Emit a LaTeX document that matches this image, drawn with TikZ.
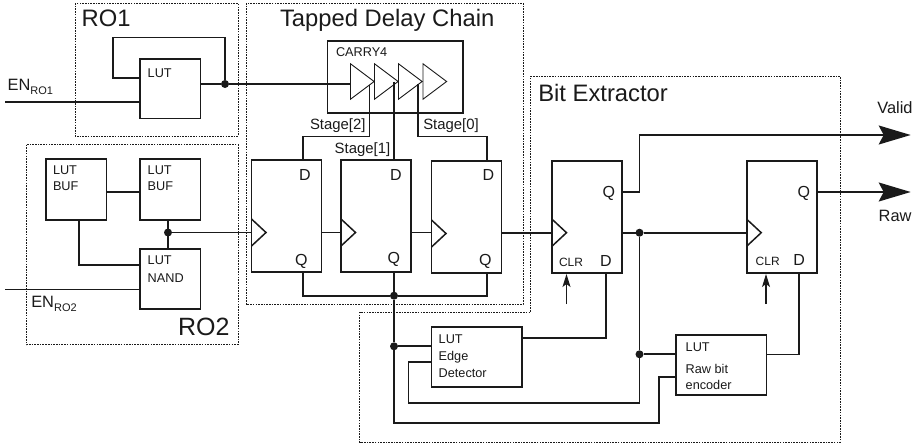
\documentclass[tikz,border=0pt]{standalone}
\usepackage{fontspec}
\setmainfont{Liberation Sans}
\usetikzlibrary{arrows.meta}
\definecolor{ink}{HTML}{1A1A1A}
\newcommand{\fs}[1]{\fontsize{#1}{#1}\selectfont}
\tikzset{
  x=1pt,y=-1pt,
  group/.style={draw=ink,line width=0.9pt,dash pattern=on 1.6pt off 1.1pt},
  bx/.style={draw=ink,line width=1.7pt,inner sep=0pt,outer sep=0pt},
  wire/.style={draw=ink,line width=1.7pt,line join=miter},
  tri/.style={draw=ink,line width=0.9pt,line join=miter},
  clk/.style={draw=ink,line width=1.5pt,line join=miter},
  jn/.style={circle,fill=ink,inner sep=0pt,outer sep=0pt,minimum size=8pt},
  txt/.style={text=ink,inner sep=0pt,outer sep=0pt,anchor=base west,align=left},
  title/.style={txt,font=\fs{23.8}},
  lut/.style={txt,font=\fs{12.7}},
  pinlabel/.style={txt,font=\fs{16}},
  clr/.style={txt,font=\fs{12}},
  stage/.style={txt,font=\fs{14.9}},
  sig/.style={txt,font=\fs{16.4}},
  outwire/.style={wire,-{Stealth[length=32pt,width=19pt,inset=5pt]}},
  clrarrow/.style={draw=ink,line width=1.2pt,-{Stealth[length=13pt,width=8pt,inset=3pt]}},
}
\newcommand{\bxn}[5]{%
  \pgfmathsetmacro\bxw{#4-#2}\pgfmathsetmacro\bxh{#5-#3}%
  \node[bx,minimum width=\bxw pt,minimum height=\bxh pt] (#1) at ({(#2+#4)/2},{(#3+#5)/2}) {};}
\newcommand{\clock}[1]{\draw[clk] ([yshift=13.5pt]#1) -- ([xshift=14.5pt]#1) -- ([yshift=-13.5pt]#1);}
\newcommand{\buffer}[1]{\draw[tri] ([yshift=17.7pt]#1) -- ([xshift=23.6pt]#1) -- ([yshift=-17.7pt]#1) -- cycle;}
\begin{document}
\begin{tikzpicture}
\useasboundingbox (0,0) rectangle (923,447);
\fill[white] (0,0) rectangle (923,447);
% groups
\draw[group] (75,3) rectangle (238,136);
\draw[group] (26.3,144.7) rectangle (238,344.5);
\draw[group] (246,3) rectangle (523,304);
\draw[group] (530.5,76) -- (840,76) -- (840,442.3) -- (359.5,442.3) -- (359.5,312.3) -- (530.5,312.3) -- cycle;
% boxes
\bxn{ro1lut}{140}{59}{200.5}{118.5}
\bxn{bufa}{45.7}{159.3}{106.5}{220}
\bxn{bufb}{140}{159.3}{200.5}{220}
\bxn{nand}{140}{248.7}{200.5}{309.3}
\bxn{carry}{327.5}{40.7}{462.8}{113}
\bxn{ffa}{251.5}{160}{321.5}{272}
\bxn{ffb}{341}{160}{411}{272}
\bxn{ffc}{431.5}{161}{501.5}{273}
\bxn{ffd}{552}{160.7}{622.3}{272.7}
\bxn{ffe}{746.7}{160.7}{816.7}{272.7}
\bxn{edge}{431.5}{326.7}{521.7}{387}
\bxn{enc}{676}{335}{766.5}{395.3}
% named points
\coordinate (ena) at (5,102);
\coordinate (enb) at (5,289.5);
\coordinate (fb) at (113,37.5);
\coordinate (fbin) at (140,78);
\coordinate (t1) at (350.5,81.5);
\coordinate (t2) at (374.5,81.5);
\coordinate (t3) at (398.5,81.5);
\coordinate (t4) at (423,81.5);
\coordinate (ca) at (251.5,232.5);
\coordinate (cb) at (341,232.5);
\coordinate (cc) at (431.5,233.5);
\coordinate (cd) at (552,232.7);
\coordinate (ce) at (746.7,232.7);
\coordinate (sa) at (369.5,85);
\coordinate (sb) at (394,81.5);
\coordinate (sc) at (418.3,84);
\coordinate (hsa) at (303,136.5);
\coordinate (hsc) at (487,136.5);
\coordinate (bufy) at (0,192);
\coordinate (bufx) at (79,265);
\coordinate (valid) at (910.7,135);
\coordinate (raw) at (910.7,192);
\coordinate (qd) at (622.3,192);
\coordinate (qe) at (816.7,192);
\coordinate (vb) at (639.5,135);
\coordinate (dd) at (605.7,272.7);
\coordinate (de) at (799,272.7);
\coordinate (ceda) at (566.5,274);
\coordinate (cedb) at (566.5,304);
\coordinate (ceea) at (766,274);
\coordinate (ceeb) at (766,304);
\coordinate (edgeout) at (521.7,338.3);
\coordinate (edgein) at (431.5,362.3);
\coordinate (encin) at (676,377);
\coordinate (encout) at (766.5,354.5);
\coordinate (loopa) at (659,422.7);
\coordinate (loopb) at (408.5,403.3);
% junctions
\node[jn] (j1) at (225,84) {};
\node[jn] (j2) at (168,232.5) {};
\node[jn] (j3) at (394,295.7) {};
\node[jn] (j4) at (394,346.3) {};
\node[jn] (j5) at (639.5,232.7) {};
\node[jn] (j6) at (639.5,354.3) {};
% buffers and clock marks
\buffer{t1}\buffer{t2}\buffer{t3}\buffer{t4}
\clock{ca}\clock{cb}\clock{cc}\clock{cd}\clock{ce}
% RO1
\draw[wire] (ena) -- (ena -| ro1lut.west);
\draw[wire] (ro1lut.east |- j1) -- (j1) -- (t1 |- j1);
\draw[wire] (j1) |- (fb) |- (fbin);
% RO2
\draw[wire] (enb) -- (enb -| nand.west);
\draw[wire] (bufa.east |- bufy) -- (bufb.west |- bufy);
\draw[wire] (bufa.south -| bufx) |- (nand.west |- bufx);
\draw[wire] (bufb.south -| j2) -- (nand.north -| j2);
\draw[wire] (j2) -- (ca);
% stages
\draw[wire] (sa) |- (hsa) -- (ffa.north -| hsa);
\draw[wire] (sb) -- (ffb.north -| sb);
\draw[wire] (sc) |- (hsc) -- (ffc.north -| hsc);
% chain
\draw[wire] (ffa.east |- ca) -- (cb);
\draw[wire] (ffb.east |- cb) -- (ffc.west |- cb);
\draw[wire] (ffc.east |- cd) -- (cd);
% Q bus
\draw[wire] (ffa.south -| hsa) |- (j3);
\draw[wire] (ffc.south -| hsc) |- (j3);
\draw[wire] (ffb.south -| j3) -- (j3) -- (j4);
\draw[wire] (j4) -- (j4 -| edge.west);
\draw[wire] (j4) |- (loopa) |- (encin);
% extractor
\draw[outwire] (qd) -| (vb) -- (valid);
\draw[outwire] (qe) -- (raw);
\draw[wire] (ffd.east |- j5) -- (j5) -- (ce);
\draw[wire] (j5) -- (j6);
\draw[wire] (j6) -- (j6 -| enc.west);
\draw[wire] (j6) |- (loopb) |- (edgein);
\draw[wire] (edgeout) -| (dd);
\draw[wire] (encout) -| (de);
\draw[clrarrow] (cedb) -- (ceda);
\draw[clrarrow] (ceeb) -- (ceea);
% titles
\node[title] (tro1) at (81.7,26) {RO1};
\node[title,font=\fs{25}] (tro2) at (178,335.7) {RO2};
\node[title] (ttdc) at (280,26) {Tapped Delay Chain};
\node[title] (tbit) at (538.3,101) {Bit Extractor};
% signals
\node[sig] (lena) at (7.7,90.7) {EN\raisebox{-3.5pt}{\fs{11}RO1}};
\node[sig] (lenb) at (31.3,307.7) {EN\raisebox{-3.5pt}{\fs{11}RO2}};
\node[sig] (lval) at (877.3,113.7) {Valid};
\node[sig] (lraw) at (878.7,221.7) {Raw};
% LUT labels
\node[lut] (l1) at (147.7,77) {LUT};
\node[lut] (l2a) at (53,174.3) {LUT};
\node[lut] (l2b) at (53,190) {BUF};
\node[lut] (l3a) at (147.7,174.3) {LUT};
\node[lut] (l3b) at (147.7,190) {BUF};
\node[lut] (l4a) at (147.7,264) {LUT};
\node[lut] (l4b) at (147.7,282) {NAND};
\node[lut] (lc) at (336,56.7) {CARRY4};
\node[lut] (l5a) at (438.7,343.3) {LUT};
\node[lut] (l5b) at (438.7,360.7) {Edge};
\node[lut] (l5c) at (438.7,377.3) {Detector};
\node[lut] (l6a) at (685.7,351.7) {LUT};
\node[lut] (l6b) at (685.7,373.3) {Raw bit};
\node[lut] (l6c) at (685.7,389.3) {encoder};
% stage labels
\node[stage] (s2) at (310,129.7) {Stage[2]};
\node[stage] (s1) at (334.7,153) {Stage[1]};
\node[stage] (s0) at (423.3,129.7) {Stage[0]};
% pins
\node[pinlabel] (da) at (299,180.3) {D};
\node[pinlabel] (db) at (390,180.3) {D};
\node[pinlabel] (dc) at (482.7,180.3) {D};
\node[pinlabel] (qa) at (295,265) {Q};
\node[pinlabel] (qb) at (387.7,263.3) {Q};
\node[pinlabel] (qc) at (479,265) {Q};
\node[pinlabel] (qqd) at (602.7,197) {Q};
\node[pinlabel] (qqe) at (797.7,197) {Q};
\node[pinlabel] (ddd) at (600,266.7) {D};
\node[pinlabel] (dde) at (793.3,265) {D};
\node[clr] (cl1) at (559,266.7) {CLR};
\node[clr] (cl2) at (755.7,265) {CLR};
\end{tikzpicture}
\end{document}
